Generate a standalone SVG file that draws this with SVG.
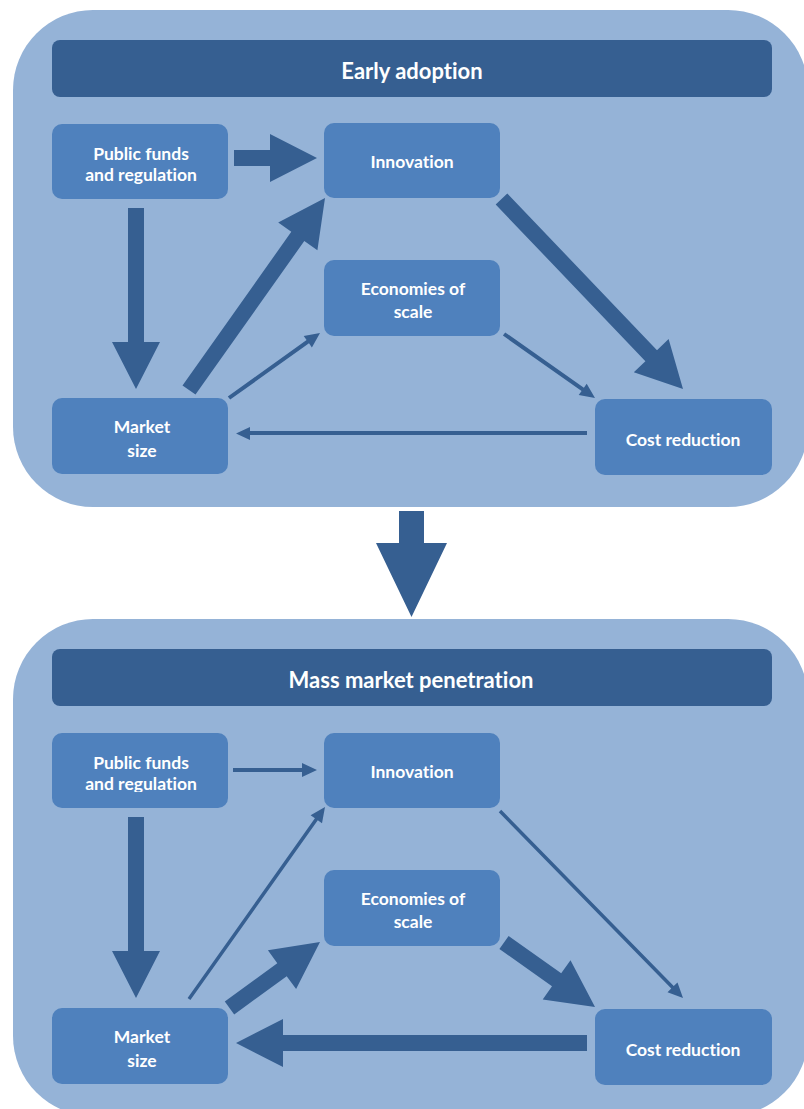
<svg xmlns="http://www.w3.org/2000/svg" width="804" height="1109" viewBox="0 0 804 1109">
<style>
.panel{fill:#95b3d7}
.title{fill:#365f91}
.node{fill:#4f81bd}
.arr{fill:#365f91}
text{font-family:"Lato","Open Sans","Liberation Sans",sans-serif;font-weight:bold;fill:#ffffff;text-anchor:middle;font-variant-ligatures:none;font-feature-settings:"liga" 0}
.tt{font-size:22px}
.nt{font-size:17.5px}
</style>
<defs>
<clipPath id="clipPF2"><rect x="52" y="733" width="176" height="59"/></clipPath>
</defs>
<rect class="panel" x="13" y="10" width="795" height="497" rx="80"/>
<rect class="panel" x="13" y="619" width="795" height="497" rx="80"/>

<g id="title-early"><rect class="title" x="52" y="40" width="720" height="57" rx="8"/><text class="tt" x="412" y="79">Early adoption</text></g>
<g id="title-mass"><rect class="title" x="52" y="649" width="720" height="57" rx="8"/><text class="tt" x="411" y="688">Mass market penetration</text></g>

<g id="connectors">
<polygon class="arr" points="234,150 270,150 270,134 317,158 270,182 270,166 234,166"/>
<polygon class="arr" points="128,208 144,208 144,342 160,342 136,389 112,342 128,342"/>
<polygon class="arr" points="195.5,394.6 304.3,241 317.4,250.3 325,198 278.2,222.5 291.3,231.8 182.5,385.4"/>
<polygon class="arr" points="495.7,204.5 645.4,361.2 633.8,372.3 683,389 668.6,339.1 657,350.2 507.3,193.5"/>
<polygon class="arr" points="230.2,399.6 309,343.3 311.9,347.4 320,333 303.7,336 306.6,340.1 227.8,396.4"/>
<polygon class="arr" points="502.9,335.6 581.6,391 578.7,395.1 595,398 586.7,383.7 583.9,387.8 505.2,332.4"/>
<polygon class="arr" points="587,431 250,431 250,427 236,433.5 250,440 250,435 587,435"/>

<polygon class="arr" points="399,511 424,511 424,543 447,543 411.5,617 376,543 399,543"/>

<polygon class="arr" points="233,768 302,768 302,763 317,770 302,777 302,772 233,772"/>
<polygon class="arr" points="128,817 144,817 144,951 160,951 136,998 112,951 128,951"/>
<polygon class="arr" points="190.4,1000 317.8,820.2 322,823.3 325,807 310.6,815.2 314.9,818.2 187.6,998"/>
<polygon class="arr" points="234.2,1014.5 286.7,976.2 296.1,989.1 320,942 267.9,950.3 277.3,963.2 224.8,1001.5"/>
<polygon class="arr" points="499.4,949 552,986.3 542.7,999.4 595,1007 570.5,960.2 561.2,973.3 508.6,936"/>
<polygon class="arr" points="498.75,812.2 671.25,988.5 667.5,992.2 683,998 677.5,982.4 673.75,986.1 501.25,809.8"/>
<polygon class="arr" points="587,1035 283,1035 283,1019 236,1043 283,1067 283,1051 587,1051"/>
</g>

<g id="public-funds-1"><rect class="node" x="52" y="124" width="176" height="75" rx="10"/><text class="nt" x="141" y="160">Public funds</text><text class="nt" x="141" y="181">and regulation</text></g>
<g id="innovation-1"><rect class="node" x="324" y="123" width="176" height="75" rx="10"/><text class="nt" x="412" y="168">Innovation</text></g>
<g id="economies-1"><rect class="node" x="324" y="260" width="176" height="76" rx="10"/><text class="nt" x="413" y="295">Economies of</text><text class="nt" x="413" y="318">scale</text></g>
<g id="market-1"><rect class="node" x="52" y="398" width="176" height="76" rx="10"/><text class="nt" x="142" y="433">Market</text><text class="nt" x="142" y="457">size</text></g>
<g id="cost-1"><rect class="node" x="595" y="399" width="177" height="76" rx="10"/><text class="nt" x="683" y="446">Cost reduction</text></g>

<g id="public-funds-2"><rect class="node" x="52" y="733" width="176" height="75" rx="10"/><g clip-path="url(#clipPF2)"><text class="nt" x="141" y="769">Public funds</text><text class="nt" x="141" y="790">and regulation</text></g></g>
<g id="innovation-2"><rect class="node" x="324" y="733" width="176" height="75" rx="10"/><text class="nt" x="412" y="778">Innovation</text></g>
<g id="economies-2"><rect class="node" x="324" y="870" width="176" height="76" rx="10"/><text class="nt" x="413" y="905">Economies of</text><text class="nt" x="413" y="928">scale</text></g>
<g id="market-2"><rect class="node" x="52" y="1008" width="176" height="76" rx="10"/><text class="nt" x="142" y="1043">Market</text><text class="nt" x="142" y="1067">size</text></g>
<g id="cost-2"><rect class="node" x="595" y="1009" width="177" height="76" rx="10"/><text class="nt" x="683" y="1056">Cost reduction</text></g>
</svg>
